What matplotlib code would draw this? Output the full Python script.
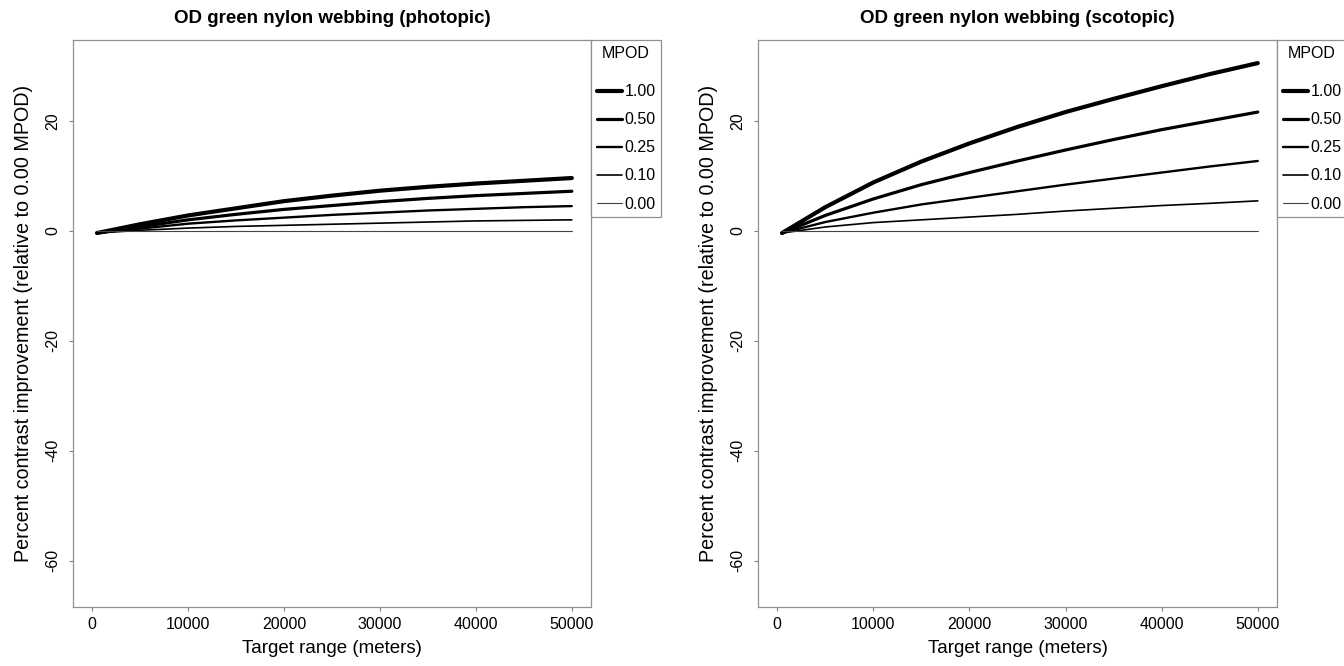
import matplotlib
matplotlib.use('Agg')
import matplotlib.pyplot as plt

plt.rcParams['font.family'] = ['Liberation Sans', 'DejaVu Sans']

# Target range (meters)
target_range = [500, 5000, 10000, 15000, 20000, 25000, 30000, 35000, 40000, 45000, 50000]

mpod_levels = ['1.00', '0.50', '0.25', '0.10', '0.00']

# Percent contrast improvement, photopic
photopic_100 = [-0.4, 1.2, 2.8, 4.1, 5.4, 6.4, 7.3, 8.0, 8.6, 9.1, 9.6]
photopic_050 = [-0.4, 0.75, 2.0, 3.0, 3.9, 4.6, 5.3, 5.9, 6.4, 6.8, 7.2]
photopic_025 = [-0.4, 0.4, 1.3, 1.9, 2.4, 2.9, 3.3, 3.7, 4.0, 4.3, 4.5]
photopic_010 = [-0.4, 0.1, 0.5, 0.8, 1.0, 1.2, 1.4, 1.6, 1.8, 1.9, 2.0]
photopic_000 = [0.0, 0.0, 0.0, 0.0, 0.0, 0.0, 0.0, 0.0, 0.0, 0.0, 0.0]

# Percent contrast improvement, scotopic
scotopic_100 = [-0.4, 4.3, 8.8, 12.6, 15.9, 18.9, 21.6, 24.0, 26.3, 28.5, 30.5]
scotopic_050 = [-0.4, 2.8, 5.8, 8.4, 10.6, 12.7, 14.7, 16.6, 18.4, 20.0, 21.6]
scotopic_025 = [-0.4, 1.6, 3.3, 4.8, 6.0, 7.2, 8.4, 9.5, 10.6, 11.7, 12.7]
scotopic_010 = [-0.4, 0.7, 1.5, 2.0, 2.5, 3.0, 3.6, 4.1, 4.6, 5.0, 5.45]
scotopic_000 = [0.0, 0.0, 0.0, 0.0, 0.0, 0.0, 0.0, 0.0, 0.0, 0.0, 0.0]

photopic = [photopic_100, photopic_050, photopic_025, photopic_010, photopic_000]
scotopic = [scotopic_100, scotopic_050, scotopic_025, scotopic_010, scotopic_000]

line_widths = [3.0, 2.3, 1.7, 1.2, 0.8]
line_colors = ['black', 'black', 'black', 'black', '#444444']

fig = plt.figure(figsize=(13.44, 6.66), dpi=100)
ax1 = fig.add_axes([73 / 1344, 1 - 607 / 666, (591 - 73) / 1344, (607 - 40) / 666])
ax2 = fig.add_axes([758 / 1344, 1 - 607 / 666, (1277 - 758) / 1344, (607 - 40) / 666])

panels = [(ax1, photopic, 'OD green nylon webbing (photopic)'),
          (ax2, scotopic, 'OD green nylon webbing (scotopic)')]

for ax, series, title in panels:
    for vals, lab, lw, c in zip(series, mpod_levels, line_widths, line_colors):
        ax.plot(target_range, vals, color=c, linewidth=lw, label=lab,
                solid_capstyle='round', solid_joinstyle='round')
    ax.set_xlim(-2000, 52000)
    ax.set_ylim(-68.4, 34.7)
    ax.set_xticks([0, 10000, 20000, 30000, 40000, 50000])
    ax.set_yticks([-60, -40, -20, 0, 20])
    ax.set_yticklabels(['-60', '-40', '-20', '0', '20'], rotation=90, va='center')
    ax.tick_params(labelsize=11.5, length=3, color='#808080')
    ax.tick_params(axis='x', pad=4)
    ax.tick_params(axis='y', pad=6)
    for sp in ax.spines.values():
        sp.set_color('#909090')
        sp.set_linewidth(0.9)
    ax.set_title(title, fontsize=13.5, fontweight='bold', pad=12)
    ax.set_xlabel('Target range (meters)', fontsize=13.5, labelpad=6)
    ax.set_ylabel('Percent contrast improvement (relative to 0.00 MPOD)',
                  fontsize=14.2, labelpad=9)
    leg = ax.legend(title='MPOD', loc='upper left', bbox_to_anchor=(1.0, 1.0),
                    borderaxespad=0, fancybox=False, fontsize=11.5,
                    title_fontsize=11.5, handlelength=1.6, handletextpad=0.15,
                    labelspacing=0.82, borderpad=0.35, framealpha=1)
    leg.get_frame().set_edgecolor('#909090')
    leg.get_frame().set_linewidth(0.9)
    leg._legend_box.sep = 17

fig.savefig('out.png', dpi=100, facecolor='white')
